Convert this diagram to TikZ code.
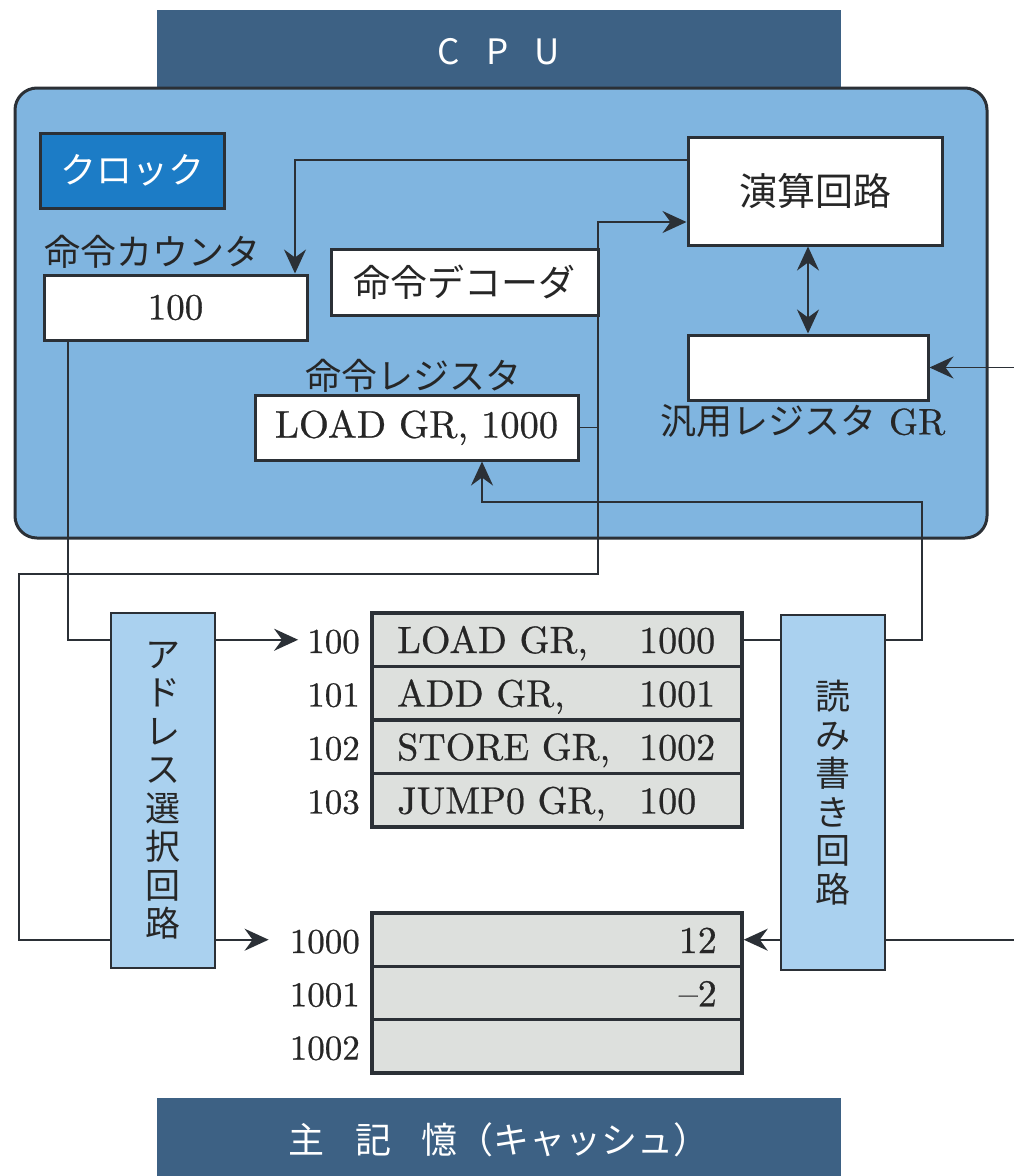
\documentclass[tikz,border=0pt]{standalone}
\usepackage{fontspec}
\setmainfont{lmroman10-regular.otf}[FakeBold=0.6]
\newfontfamily\jp{Noto Sans CJK JP}
\usetikzlibrary{arrows.meta}
\definecolor{hdrblue}{HTML}{3D6184}
\definecolor{cpublue}{HTML}{80B5E0}
\definecolor{clockblue}{HTML}{1C7CC6}
\definecolor{lightbox}{HTML}{AAD1EF}
\definecolor{memgray}{HTML}{DDE0DD}
\definecolor{bordc}{HTML}{2B3036}
\definecolor{txtc}{HTML}{262626}
\tikzset{
  hdr/.style={fill=hdrblue, draw=none, text=white, inner sep=0pt},
  wbox/.style={draw=bordc, line width=3pt, fill=white, inner sep=0pt, text=txtc},
  lbox/.style={draw=bordc, line width=2.5pt, fill=lightbox, inner sep=0pt, text=txtc},
  memrow/.style={draw=bordc, line width=3.5pt, fill=memgray, inner sep=0pt, minimum width=370pt},
  lbl/.style={inner sep=1pt, text=txtc},
  conn/.style={draw=bordc, line width=1.9pt},
  tip/.tip={Stealth[length=24pt,width=22pt,inset=8pt]},
  arr/.style={conn, -tip},
  darr/.style={conn, tip-tip},
  jpf/.style={font=\jp\fontsize{36}{40}\selectfont},
  rmf/.style={font=\fontsize{38}{42}\selectfont},
  adf/.style={font=\fontsize{35}{40}\selectfont},
}
\begin{document}
\begin{tikzpicture}[x=1pt,y=-1pt]
\useasboundingbox (0,0) rectangle (1014,1176);
\fill[white] (0,0) rectangle (1014,1176);

% CPU header and body
\node[hdr, minimum width=684pt, minimum height=84pt, font=\jp\fontsize{35}{38}\selectfont] (cpuhdr) at (499,52) {C\hspace{0.75em}P\hspace{0.75em}U};
\node[draw=bordc, line width=3pt, fill=cpublue, rounded corners=22pt, minimum width=972pt, minimum height=450pt] (cpu) at (501,313) {};

% CPU internals
\node[draw=bordc, line width=3pt, fill=clockblue, text=white, minimum width=184pt, minimum height=75pt, inner sep=0pt, font=\jp\fontsize{36}{38}\selectfont] (clock) at (132,170.5) {クロック};
\node[lbl, jpf] (pclbl) at (153,252) {命令カウンタ};
\node[wbox, minimum width=263pt, minimum height=65pt, font=\fontsize{37}{40}\selectfont] (pc) at (175.5,307.5) {100};
\node[wbox, minimum width=267pt, minimum height=66pt, font=\jp\fontsize{37}{40}\selectfont] (dec) at (464.5,282) {命令デコーダ};
\node[wbox, minimum width=254pt, minimum height=108pt, font=\jp\fontsize{38}{40}\selectfont] (alu) at (815,191) {演算回路};
\node[wbox, minimum width=240pt, minimum height=65pt] (gr) at (808,367.5) {};
\node[lbl, font=\fontsize{37}{40}\selectfont] (grlbl) at (803,421) {{\jp\fontsize{36}{40}\selectfont 汎用レジスタ} GR};
\node[lbl, jpf] (irlbl) at (413,376) {命令レジスタ};
\node[wbox, minimum width=323pt, minimum height=65pt, font=\fontsize{38.5}{40}\selectfont] (ir) at (416.5,427.5) {LOAD GR, 1000};

% selector and read/write circuits
\node[lbox, minimum width=104pt, minimum height=355pt, align=center, font=\jp\fontsize{35}{38.5}\selectfont] (addr) at (163,790.5) {ア\\ド\\レ\\ス\\選\\択\\回\\路};
\node[lbox, minimum width=104pt, minimum height=355pt, align=center, font=\jp\fontsize{35}{38.5}\selectfont] (rw) at (833,792.5) {読\\み\\書\\き\\回\\路};

% memory block 1
\node[memrow, minimum height=53.5pt] (m1a) at (557,639.75) {};
\node[memrow, minimum height=53.5pt] (m1b) at (557,693.25) {};
\node[memrow, minimum height=53.5pt] (m1c) at (557,746.75) {};
\node[memrow, minimum height=53.5pt] (m1d) at (557,800.25) {};
\node[lbl, rmf, anchor=base west] (i1) at (396,653) {LOAD GR,};
\node[lbl, rmf, anchor=base west] (o1) at (638,653) {1000};
\node[lbl, rmf, anchor=base west] (i2) at (396,706.5) {ADD GR,};
\node[lbl, rmf, anchor=base west] (o2) at (638,706.5) {1001};
\node[lbl, rmf, anchor=base west] (i3) at (396,760) {STORE GR,};
\node[lbl, rmf, anchor=base west] (o3) at (638,760) {1002};
\node[lbl, rmf, anchor=base west] (i4) at (396,813.5) {JUMP0 GR,};
\node[lbl, rmf, anchor=base west] (o4) at (638,813.5) {100};
\node[lbl, adf, anchor=base east] (a100) at (361,653) {100};
\node[lbl, adf, anchor=base east] (a101) at (361,706.5) {101};
\node[lbl, adf, anchor=base east] (a102) at (361,760) {102};
\node[lbl, adf, anchor=base east] (a103) at (361,813.5) {103};

% memory block 2
\node[memrow, minimum height=53.3pt] (m2a) at (557,939.7) {};
\node[memrow, minimum height=53.3pt] (m2b) at (557,993) {};
\node[memrow, minimum height=53.3pt] (m2c) at (557,1046.3) {};
\node[lbl, rmf, anchor=base east] (v1) at (718,953) {12};
\node[lbl, rmf, anchor=base east] (v2) at (718,1006.3) {--2};
\node[lbl, adf, anchor=base east] (a1000) at (361,953) {1000};
\node[lbl, adf, anchor=base east] (a1001) at (361,1006.3) {1001};
\node[lbl, adf, anchor=base east] (a1002) at (361,1059.6) {1002};

% main memory header
\node[hdr, minimum width=684pt, minimum height=84pt, font=\jp\fontsize{36}{38}\selectfont] (memhdr) at (499,1140) {主\hspace{0.85em}記\hspace{0.85em}憶（キャッシュ）};

% connector end points outside
\coordinate (grin) at (1014,367.5);
\coordinate (rwin) at (1014,940);
\coordinate (j1) at (598,427.5);
\coordinate (j2) at (598,574);
\coordinate (j3) at (19,574);
\coordinate (j4) at (922,502);

% connectors
\draw[arr] ([yshift=31pt]alu.west) -| ([xshift=119.5pt]pc.north);
\draw[conn] (ir.east) -- (j1);
\draw[arr] (j1) |- ([yshift=-31pt]alu.west);
\draw[conn] (j1) -- (j2) -- (j3) |- (addr.west |- m2a.west);
\draw[conn] ([xshift=-107.5pt]pc.south) |- (addr.west |- m1a.west);
\draw[darr] (gr.north) -- (gr.north |- alu.south);
\draw[arr] (grin) -- (gr.east);
\draw[arr] (addr.east |- m1a.west) -- ([xshift=-8pt]a100.west |- m1a.west);
\draw[arr] (addr.east |- m2a.west) -- ([xshift=-20pt]a1000.west |- m2a.west);
\draw[conn] (m1a.east) -- (m1a.east -| rw.west);
\draw[arr] (rw.east |- m1a.east) -| (j4) -| ([xshift=65.5pt]ir.south);
\draw[conn] (rwin) -- (rwin -| rw.east);
\draw[arr] (rw.west |- m2a.east) -- (m2a.east);
\end{tikzpicture}
\end{document}
